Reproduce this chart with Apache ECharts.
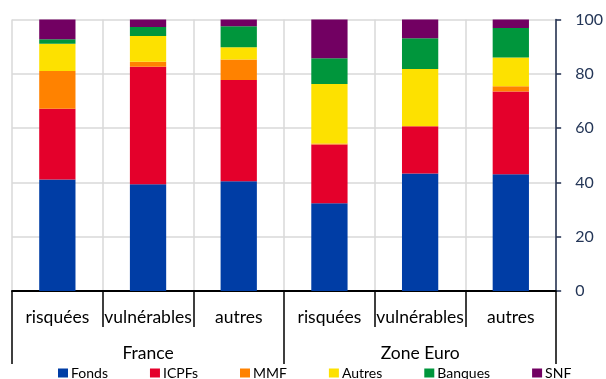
<!DOCTYPE html>
<html>
<head>
<meta charset="utf-8">
<script src="https://cdn.jsdelivr.net/npm/echarts@6/dist/echarts.min.js"></script>
<style>
  html, body { margin: 0; padding: 0; background: #fff; }
  #chart { width: 606px; height: 379px; }
</style>
</head>
<body>
<div id="chart"></div>
<script>
// Sub-categories (inner axis) and their groups (outer axis)
const categories = ['risquées', 'vulnérables', 'autres', 'risquées', 'vulnérables', 'autres'];
const groups = ['France', 'Zone Euro'];
const yTicks = [0, 20, 40, 60, 80, 100];

// Shares (%) held by each holder type
const fonds   = [41.1, 39.3, 40.4, 32.3, 43.3, 43.0];
const icpfs   = [26.0, 43.3, 37.3, 21.7, 17.4, 30.5];
const mmf     = [13.9,  1.8,  7.6,  0.3,  0.0,  1.9];
const autres  = [10.1,  9.5,  4.5, 21.9, 21.1, 10.6];
const banques = [ 1.6,  3.3,  7.7,  9.5, 11.3, 10.9];
const snf     = [ 7.3,  2.8,  2.5, 14.3,  6.9,  3.1];

const seriesDefs = [
  { name: 'Fonds',   data: fonds,   color: '#003DA5' },
  { name: 'ICPFs',   data: icpfs,   color: '#E4002B' },
  { name: 'MMF',     data: mmf,     color: '#FF8200' },
  { name: 'Autres',  data: autres,  color: '#FDE100' },
  { name: 'Banques', data: banques, color: '#00963C' },
  { name: 'SNF',     data: snf,     color: '#720062' }
];

const FONT = 'Lato, "Liberation Sans", sans-serif';
const chart = echarts.init(document.getElementById('chart'), null, { renderer: 'canvas' });

chart.setOption({
  animation: false,
  textStyle: { fontFamily: FONT },
  grid: { left: 12, right: 47, top: 19.5, bottom: 88, containLabel: false },
  legend: {
    data: seriesDefs.map(s => s.name),
    left: 58,
    top: 366,
    padding: 0,
    itemWidth: 10,
    itemHeight: 9,
    itemGap: 42,
    icon: 'rect',
    textStyle: { fontFamily: FONT, fontSize: 14, color: '#000', padding: [0, 0, 0, -2] }
  },
  xAxis: [
    {
      type: 'category',
      data: categories,
      position: 'bottom',
      boundaryGap: true,
      axisLine: { show: true, lineStyle: { color: '#000', width: 2 } },
      axisTick: { show: true, alignWithLabel: false, length: 36, lineStyle: { color: '#000', width: 1.5 } },
      axisLabel: { fontFamily: FONT, fontSize: 17.5, color: '#000', margin: 17, interval: 0 },
      splitLine: { show: true, lineStyle: { color: '#d9d9d9', width: 1.5 } }
    },
    {
      type: 'category',
      data: groups,
      position: 'bottom',
      boundaryGap: true,
      axisLine: { show: false },
      axisTick: { show: true, length: 73, lineStyle: { color: '#000', width: 1.5 } },
      axisLabel: { fontFamily: FONT, fontSize: 17.5, color: '#000', margin: 53.5, interval: 0 },
      splitLine: { show: false }
    }
  ],
  yAxis: {
    type: 'value',
    position: 'right',
    min: 0,
    max: 100,
    interval: 20,
    axisLine: { show: true, lineStyle: { color: '#1F2D4D', width: 1.5 } },
    axisTick: { show: true, inside: false, length: 5, lineStyle: { color: '#1F2D4D', width: 1.5 } },
    axisLabel: {
      fontFamily: FONT, fontSize: 16, color: '#243657', margin: 19,
      formatter: v => (yTicks.indexOf(v) >= 0 ? String(v) : '')
    },
    splitLine: { show: true, lineStyle: { color: '#d9d9d9', width: 1.5 } }
  },
  series: seriesDefs.map(s => ({
    name: s.name,
    type: 'bar',
    stack: 'total',
    xAxisIndex: 0,
    barWidth: '40%',
    data: s.data,
    itemStyle: { color: s.color }
  }))
});
</script>
</body>
</html>
